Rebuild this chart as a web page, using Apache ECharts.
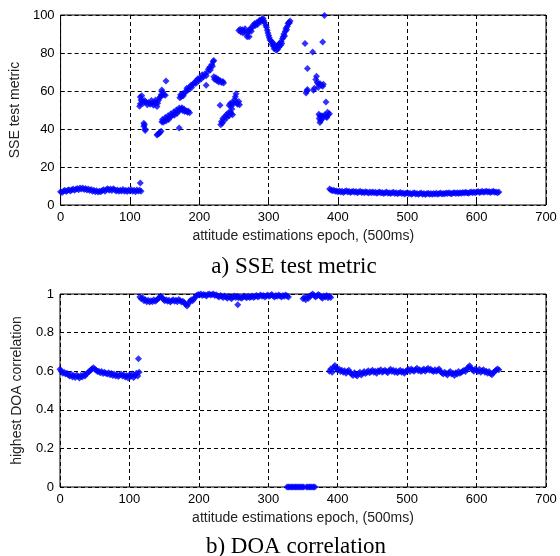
<!DOCTYPE html>
<html><head><meta charset="utf-8">
<script src="https://cdn.jsdelivr.net/npm/echarts@6/dist/echarts.min.js"></script>
<style>html,body{margin:0;padding:0;background:#fff}#c{width:560px;height:556px}</style>
</head><body><div id="c"></div>
<script>
// ---- SSE test metric (top) ----
const sseBandAStart = 0, sseBandAStep = 2;
const sseBandA = [7.0,6.6,7.3,7.8,7.1,7.6,8.0,7.4,7.9,8.4,
  7.7,8.3,8.7,8.0,8.9,8.4,9.0,8.2,8.7,7.9,
  8.4,7.6,8.1,7.3,7.8,7.0,7.5,6.8,7.3,7.0,
  7.6,8.0,7.3,8.1,8.5,7.8,8.4,7.6,8.6,8.0,
  7.4,7.9,7.2,7.8,7.4,8.1,7.3,7.7,7.1,7.9,
  7.4,8.0,7.2,7.7,7.0,7.9,7.4,7.8,7.2];
const sseBandBStart = 388, sseBandBStep = 2;
const sseBandB = [8.4,7.9,7.5,7.8,7.2,7.4,
  7.0,7.4,6.8,7.2,6.6,7.1,7.5,6.9,7.2,6.6,7.0,7.3,6.7,7.1,6.5,6.9,7.2,6.6,6.9,6.4,7.0,6.7,6.3,6.8,6.5,
  6.9,6.4,6.7,6.2,6.6,6.9,6.3,6.6,6.1,6.5,6.8,6.2,6.5,6.0,6.4,6.7,6.1,6.4,5.9,6.3,6.6,6.0,6.3,5.8,6.2,
  6.5,5.9,6.2,5.7,6.1,6.4,5.8,6.1,5.6,6.0,6.3,5.7,6.0,5.5,5.9,6.2,5.6,6.0,5.7,6.1,5.8,6.2,5.7,6.0,6.3,
  5.8,6.1,5.9,6.3,6.0,6.4,6.1,5.9,6.3,6.5,6.1,6.4,6.0,6.5,6.2,6.6,6.3,6.7,6.4,6.2,6.6,6.9,6.5,6.8,6.4,
  6.8,7.1,6.6,6.9,7.2,6.7,7.0,7.3,6.8,7.1,6.6,7.0,7.2,6.7,6.9,6.5,6.8];
const sseScatter = [
  [115,11.6],
  [114,52],[115,56.8],[115,53.3],[116,55.2],[117,57.5],[118,54.8],[119,53.5],[121,55],[123,54.2],[125,52.8],[127,54],[129,53],[131,55],[132,53.5],[134,52.5],[136,54],[137,55.2],[139,51.8],[140,53.5],[141,55],[143,56.5],[144,57],[145,58],[146,60.5],[147,59.5],[149,58],[151,57.7],[152,65.3],
  [120,43],[120,41.5],[121,42.3],[122,40],[122,39.2],
  [139,36.8],[140,37.2],[142,37.6],[143,38.2],[145,38.8],
  [146,43.8],[147,45],[148,43.5],[150,44.5],[151,46],[152,44.2],[154,45.5],[155,47],[156,45],[158,46.5],[159,48],[160,46.8],[162,47.5],[163,49],[164,47.2],[166,48.5],[167,50],[168,48.2],[170,49.5],[171,51],[172,50],[174,50.5],[175,51.2],[176,49.8],[178,50.5],[179,49.2],[181,49.5],[183,48.8],[184,49.5],[186,48.6],[171,40.5],
  [172,56.5],[173,58],[174,57],[176,58.5],[177,57.5],[179,59],[181,60],[182,61.5],[184,60.5],[186,62],[188,63],[189,61.8],[191,63.5],[193,64.5],[195,64],[196,65.5],[198,66.5],[199,65.2],[201,67],[203,66.5],[204,68.5],[206,67.5],[208,69],[210,68],[212,70],[213,71.5],[215,72.5],[216,71],[218,74],[219,73],[220,75.5],[221,76],[210,63],
  [221,67.5],[222,66.2],[224,67],[225,65.5],[227,66.2],[228,64.8],[230,65.5],[232,64.5],[234,65],[235,64.2],
  [230,52.5],[231,42.3],[232,44],[233,43],[234,45.5],[236,44.5],[237,46.5],[239,47.5],[240,46],[242,48.5],[243,47],[245,49],[246,48],[247,50.5],[248,47.5],
  [243,52.5],[245,53.5],[246,52],[248,54],[250,53.5],[251,55.5],[252,57],[253,58.5],[254,54],[255,53],[257,54.5],[258,52.8],
  [257,91.8],[259,92.5],[260,91],[262,92.2],[263,90.5],[265,91.5],[266,92.8],[268,90],[269,88.5],[271,91],[272,92],[274,93],[275,91.5],[277,93.5],[278,94.8],[280,95.5],[281,94.5],[283,96],[284,95],[286,96.5],[287,97.2],[289,96.5],[290,97.8],[292,98.2],[293,97],[294,96],[296,94.5],[297,93.5],[298,92],[299,90.5],[300,89.2],[301,88],[302,86.8],[304,86],[305,84.5],[306,85.5],[307,83.5],[308,82.2],[309,84],[310,82.8],[311,81.5],[312,83.5],[313,82],[314,84.5],[315,83.2],[316,85],[317,84],[318,86],[319,85],[320,87.5],[321,88.5],[322,90],[323,89],[324,91.5],[325,93],[326,92.2],[327,94],[328,95.5],[329,96],[330,95.8],[331,96.8],[272,88.5],
  [352.5,85],[363.5,80.5],[378,85.8],[380.5,99.8],[356,71.8],[355,60],[354,59],[356,60.8],[364.5,60.4],[366,61.5],[369,67.7],[368,66],[370,64.5],[372,63.5],[374,64],[376,63],[378,62.5],[379,63.5],[371.5,61.8],[382.7,54.2],
  [372.5,47.8],[373,45.5],[374,43.4],[374,46.9],[375,44.5],[376.5,45],[377,47],[379,46.5],[381,47.5],[383,46.5],[384,46],[386,47.5],[387.6,48],[385,48.8]
];
// ---- DOA correlation (bottom) ----
const doaBandAStart = 0, doaBandAStep = 2;
const doaBandA = [0.610,0.600,0.590,0.595,0.585,0.590,
  0.580,0.575,0.585,0.570,0.578,0.568,0.580,0.572,0.565,0.578,0.570,0.582,0.575,
  0.585,0.592,0.598,0.605,0.612,0.618,0.612,
  0.605,0.598,0.600,0.592,0.598,0.588,0.595,0.590,0.585,0.592,
  0.582,0.588,0.578,0.585,0.575,0.582,0.572,0.580,0.585,0.575,0.580,0.570,0.578,
  0.565,0.580,0.572,0.585,0.568,0.578,0.590,0.575,0.595];
const doaHighAStart = 115, doaHighAStep = 2;
const doaHighA = [0.985,0.975,0.980,0.965,0.970,0.960,0.968,0.958,0.965,0.960,0.970,0.962,0.968,0.975,
  0.980,0.988,0.982,0.972,0.965,0.970,0.962,0.968,0.958,0.965,
  0.970,0.962,0.968,0.960,0.972,0.965,0.958,0.962,0.955,0.945,0.938,0.950,0.962,0.970,0.965,0.975,
  0.985,0.992,0.998,0.995,1.000,0.992,0.998,0.995,0.990,0.998,1.000,0.995,0.998,1.000,0.992,0.996,0.990,0.985,0.992,0.988,
  0.982,0.990,0.985,0.978,0.988,0.982,0.975,0.985,0.990,0.982,0.988,0.980,0.985,0.978,0.982,0.990,0.985,0.980,0.988,0.982,
  0.985,0.990,0.982,0.988,0.992,0.985,0.990,0.995,0.988,0.992,0.985,0.990,0.995,0.988,0.992,0.998,0.990,0.985,0.992,0.988,0.995,0.990,0.985,0.992,0.988,0.995,0.990,0.985];
const doaHighBStart = 350, doaHighBStep = 2;
const doaHighB = [0.975,0.982,0.970,0.985,0.978,0.990,0.995,1.000,0.992,0.985,0.990,0.998,0.992,0.985,0.978,0.990,0.985,0.992,0.980,0.988,0.982];
const doaBandBStart = 388, doaBandBStep = 2;
const doaBandB = [0.600,0.612,0.595,0.620,0.630,0.615,
  0.605,0.612,0.598,0.605,0.595,0.602,0.590,0.598,0.605,0.592,0.585,
  0.578,0.592,0.582,0.575,0.588,0.595,0.580,0.590,0.598,0.588,
  0.595,0.602,0.592,0.598,0.605,0.595,0.600,0.590,0.602,0.598,0.608,0.595,0.600,0.605,0.598,0.592,0.602,0.610,0.598,0.605,0.595,0.602,0.592,0.598,0.605,0.595,0.600,0.590,0.598,
  0.605,0.610,0.598,0.612,0.605,0.600,0.608,0.615,0.602,0.608,0.598,0.605,0.612,0.600,0.608,0.615,0.605,0.610,0.602,0.598,0.608,0.600,0.605,0.612,0.598,
  0.592,0.585,0.595,0.588,0.580,0.592,0.598,0.585,0.590,0.578,0.592,0.585,0.598,0.590,0.595,
  0.600,0.605,0.598,0.612,0.620,0.628,0.615,0.608,0.600,0.612,
  0.605,0.598,0.610,0.595,0.602,0.608,0.595,0.600,0.590,0.598,0.588,0.582,0.592,0.598,0.605,0.612,0.608];
const doaScatter = [[113,0.664],[256,0.944],
  [327,0],[329,0],[331,0],[333,0],[335,0],[337,0],[339,0],[341,0],[343,0],[345,0],[347,0],[349,0],[351,0],
  [355,0],[357,0],[359,0],[361,0],[363,0],[365,0],[367,0]];

const xTicks = [0,100,200,300,400,500,600,700];
const xLabel = 'attitude estimations epoch, (500ms)';

function band(start, step, ys){ return ys.map((y,i)=>[start+i*step, y]); }
const sseData = [].concat(band(sseBandAStart,sseBandAStep,sseBandA), sseScatter, band(sseBandBStart,sseBandBStep,sseBandB));
const doaData = [].concat(band(doaBandAStart,doaBandAStep,doaBandA), band(doaHighAStart,doaHighAStep,doaHighA),
  band(doaHighBStart,doaHighBStep,doaHighB), band(doaBandBStart,doaBandBStep,doaBandB), doaScatter);

const FONT = 'Liberation Sans';
const split = {show:true, lineStyle:{color:'#000', width:1, type:[4,3]}};
const tick = {show:true, inside:true, length:4, lineStyle:{color:'#000'}};
function xAx(gi){ return {gridIndex:gi, type:'value', min:0, max:700, interval:100,
  axisLine:{show:false}, axisTick:tick, splitLine:split,
  axisLabel:{color:'#000', fontFamily:FONT, fontSize:13, margin:6},
  name:xLabel, nameLocation:'middle', nameGap:24,
  nameTextStyle:{color:'#222', fontFamily:FONT, fontSize:14}}; }
const chart = echarts.init(document.getElementById('c'), null, {renderer:'canvas'});
chart.setOption({
  animation:false,
  backgroundColor:'#fff',
  title:[
    {text:'a) SSE test metric', left:289, top:250, textAlign:'center',
     textStyle:{fontFamily:'Liberation Serif', fontSize:23, fontWeight:'normal', color:'#000'}},
    {text:'b) DOA correlation', left:291, top:530, textAlign:'center',
     textStyle:{fontFamily:'Liberation Serif', fontSize:23, fontWeight:'normal', color:'#000'}}
  ],
  grid:[
    {left:60, top:15, width:486, height:190, show:true, borderColor:'#000', borderWidth:1, backgroundColor:'transparent'},
    {left:60, top:294, width:486, height:193, show:true, borderColor:'#000', borderWidth:1, backgroundColor:'transparent'}
  ],
  xAxis:[xAx(0), xAx(1)],
  yAxis:[
    {gridIndex:0, type:'value', min:0, max:100, interval:20, axisLine:{show:false}, axisTick:tick, splitLine:split,
     axisLabel:{color:'#000', fontFamily:FONT, fontSize:13, margin:6},
     name:'SSE test metric', nameLocation:'middle', nameGap:36,
     nameTextStyle:{color:'#222', fontFamily:FONT, fontSize:14}},
    {gridIndex:1, type:'value', min:0, max:1, interval:0.2, axisLine:{show:false}, axisTick:tick, splitLine:split,
     axisLabel:{color:'#000', fontFamily:FONT, fontSize:13, margin:6},
     name:'highest DOA correlation', nameLocation:'middle', nameGap:36,
     nameTextStyle:{color:'#222', fontFamily:FONT, fontSize:14}}
  ],
  series:[
    {type:'scatter', xAxisIndex:0, yAxisIndex:0, data:sseData, symbol:'diamond', symbolSize:7, clip:false,
     itemStyle:{color:'#0000ff'}, silent:true},
    {type:'scatter', xAxisIndex:1, yAxisIndex:1, data:doaData, symbol:'diamond', symbolSize:7, clip:false,
     itemStyle:{color:'#0000ff'}, silent:true}
  ]
});
</script>
</body></html>
